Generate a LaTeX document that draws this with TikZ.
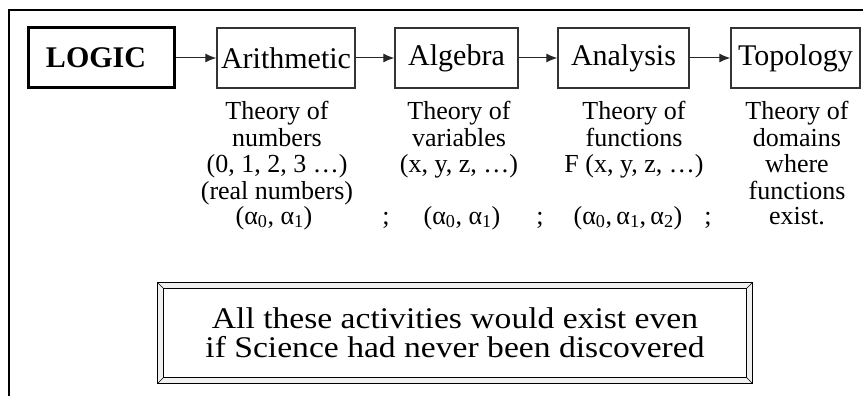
\documentclass[tikz,border=0pt]{standalone}
\usepackage{fontspec}
\setmainfont{Liberation Serif}
\newfontfamily\widefont{Liberation Serif}[FakeStretch=1.12]
\usetikzlibrary{arrows.meta}

\begin{document}
\begin{tikzpicture}[x=1pt,y=-1pt,>={Latex[length=11pt,width=9pt]},
  subject/.style={draw=black!80,line width=1.4pt,minimum height=60pt,inner sep=0pt,
    font=\fontsize{30}{34}\selectfont},
  theory/.style={align=center,anchor=north,inner sep=0pt,font=\fontsize{26}{26.5}\selectfont},
  tuple/.style={anchor=base,inner sep=0pt,font=\fontsize{26}{28}\selectfont},
  link/.style={->,line width=1pt,black!85}]
  \useasboundingbox (0,0) rectangle (863,396);
  % page frame
  \draw[line width=1.5pt] (9,396) -- (9,10) -- (863,10);

  % the chain of subjects
  \node[subject,draw=black,line width=3pt,minimum width=146pt,
    font=\fontsize{30}{34}\selectfont\bfseries] (logic) at (101,58) {LOGIC\hspace*{10pt}};
  \node[subject,minimum width=138pt] (arith) at (286,58) {Arithmetic};
  \node[subject,minimum width=123pt] (algebra) at (456.5,58) {Algebra};
  \node[subject,minimum width=131pt] (analysis) at (623.5,58) {Analysis};
  \node[subject,minimum width=129pt] (topology) at (795.5,58) {Topology};
  \draw[link] (logic) -- (arith);
  \draw[link] (arith) -- (algebra);
  \draw[link] (algebra) -- (analysis);
  \draw[link] (analysis) -- (topology);

  % what each one is about
  \node[theory] (arithtxt) at (277,101) {Theory of\\numbers\\(0, 1, 2, 3 …)\\(real numbers)};
  \node[theory] (algtxt) at (459,101) {Theory of\\variables\\(x, y, z, …)};
  \node[theory] (anatxt) at (634,101) {Theory of\\functions\\F (x, y, z, …)};
  \node[theory] (toptxt) at (797,101) {Theory of\\domains\\where\\functions};

  % parameters
  \node[tuple] (par1) at (274,224) {(α\textsubscript{0}, α\textsubscript{1})};
  \node[tuple] (semi1) at (386,224) {;};
  \node[tuple] (par2) at (462,224) {(α\textsubscript{0}, α\textsubscript{1})};
  \node[tuple] (semi2) at (540,224) {;};
  \node[tuple] (par3) at (628,224) {(α\textsubscript{0},\,α\textsubscript{1},\,α\textsubscript{2})};
  \node[tuple] (semi3) at (708,224) {;};
  \node[tuple] (exist) at (797,224) {exist.};

  % closing remark in a bevelled frame
  \node[minimum width=594pt,minimum height=100pt,inner sep=0pt,align=center,
    font=\widefont\fontsize{30}{29}\selectfont] (note) at (455,333)
    {All these activities would exist even\\if Science had never been discovered};
  \fill[gray!12,even odd rule] (note.north west) rectangle (note.south east)
    ([shift={(6,6)}]note.north west) rectangle ([shift={(-6,-6)}]note.south east);
  \draw[line width=1.2pt] (note.north west) rectangle (note.south east);
  \draw[line width=1pt] ([shift={(6,6)}]note.north west) rectangle ([shift={(-6,-6)}]note.south east);
  \draw[line width=0.6pt] (note.north west) -- ++(6,6) (note.north east) -- ++(-6,6)
    (note.south west) -- ++(6,-6) (note.south east) -- ++(-6,-6);
\end{tikzpicture}
\end{document}
